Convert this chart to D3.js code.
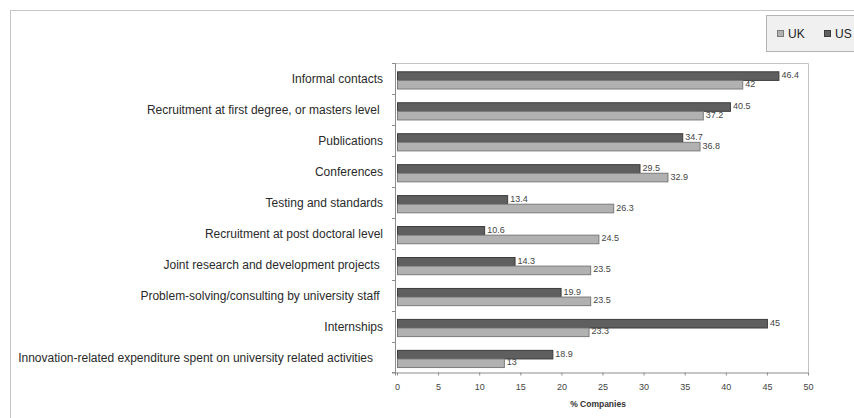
<!DOCTYPE html>
<html>
<head>
<meta charset="utf-8">
<script src="https://cdn.jsdelivr.net/npm/d3@7/dist/d3.min.js"></script>
<style>
  html, body { margin: 0; padding: 0; background: #fff; }
  svg { display: block; font-family: "Liberation Sans", Arial, sans-serif; }
</style>
</head>
<body>
<svg id="chart" width="854" height="418"></svg>
<script>
const categories = [
  "Informal contacts",
  "Recruitment at first degree, or masters level ",
  "Publications",
  "Conferences",
  "Testing and standards",
  "Recruitment at post doctoral level",
  "Joint research and development projects ",
  "Problem-solving/consulting by university staff ",
  "Internships",
  "Innovation-related expenditure spent on university related activities   "
];
const usValues = [46.4, 40.5, 34.7, 29.5, 13.4, 10.6, 14.3, 19.9, 45, 18.9];
const ukValues = [42, 37.2, 36.8, 32.9, 26.3, 24.5, 23.5, 23.5, 23.3, 13];
const xTicks = [0, 5, 10, 15, 20, 25, 30, 35, 40, 45, 50];
const seriesNames = ["UK", "US"];

(function () {
const svg = d3.select("#chart");
const colors = { US: "#5f5f5f", UK: "#b1b1b1" };
const strokes = { US: "#3c3c3c", UK: "#7a7a7a" };

// outer chart border
svg.append("rect").attr("x", 10.5).attr("y", 10.5).attr("width", 860).attr("height", 420)
  .attr("fill", "none").attr("stroke", "#c6c6c6");

const pL = 397, pR = 808, pT = 63, pB = 372.5;
const x = d3.scaleLinear().domain([0, 50]).range([pL, pR]);
const y = d3.scaleBand().domain(categories).range([pT, pB]).padding(0);
const bw = y.bandwidth();

// plot area frame (top & right)
svg.append("path")
  .attr("d", `M${pL - 2},${pT + 0.5} H${pR + 0.5} V${pB}`)
  .attr("fill", "none").attr("stroke", "#c4c4c4");

// bars
const rows = categories.map((c, i) => ({ c, us: usValues[i], uk: ukValues[i] }));
const g = svg.append("g");
const barH = 8.6;
rows.forEach(r => {
  const y0 = y(r.c);
  const yUS = y0 + 8.8, yUK = y0 + 8.8 + barH;
  g.append("rect").attr("x", x(0) + 0.5).attr("y", yUS)
    .attr("width", x(r.us) - x(0)).attr("height", barH)
    .attr("fill", colors.US).attr("stroke", strokes.US).attr("stroke-width", 1);
  g.append("rect").attr("x", x(0) + 0.5).attr("y", yUK)
    .attr("width", x(r.uk) - x(0)).attr("height", barH)
    .attr("fill", colors.UK).attr("stroke", strokes.UK).attr("stroke-width", 1);
  g.append("text").attr("x", x(r.us) + 3).attr("y", yUS + barH / 2 - 1)
    .attr("dominant-baseline", "central").attr("font-size", 9).attr("fill", "#444")
    .text(r.us);
  g.append("text").attr("x", x(r.uk) + 3).attr("y", yUK + barH / 2 - 1)
    .attr("dominant-baseline", "central").attr("font-size", 9).attr("fill", "#444")
    .text(r.uk);
});

// y axis
const yAxisG = svg.append("g");
yAxisG.append("line").attr("x1", pL - 1.5).attr("x2", pL - 1.5).attr("y1", pT).attr("y2", pB + 3)
  .attr("stroke", "#8c8c8c");
categories.forEach((c, i) => {
  const yy = Math.round(y(c)) + 0.5;
  yAxisG.append("line").attr("x1", pL - 5).attr("x2", pL - 1.5).attr("y1", yy).attr("y2", yy)
    .attr("stroke", "#8c8c8c");
  yAxisG.append("text").attr("x", 383).attr("y", y(c) + bw / 2 + 1)
    .attr("text-anchor", "end").attr("dominant-baseline", "central")
    .attr("font-size", 12).attr("fill", "#2a2a2a")
    .style("white-space", "pre")
    .text(c);
});
yAxisG.append("line").attr("x1", pL - 5).attr("x2", pL - 1.5).attr("y1", pB).attr("y2", pB)
  .attr("stroke", "#8c8c8c");

// x axis
const xAxis = d3.axisBottom(x).tickValues(xTicks).tickSize(3).tickPadding(8).tickFormat(d3.format("d"));
const xg = svg.append("g").attr("transform", `translate(0,${pB})`).call(xAxis);
xg.select(".domain").attr("stroke", "#8c8c8c").attr("d", `M${pL - 5},0.5H${pR + 0.5}`);
xg.selectAll(".tick line").attr("stroke", "#8c8c8c");
xg.selectAll(".tick text").attr("font-size", 9).attr("fill", "#444")
  .attr("font-family", "Liberation Sans, Arial, sans-serif");

svg.append("text").attr("x", 598).attr("y", 404).attr("text-anchor", "middle")
  .attr("dominant-baseline", "central")
  .attr("font-size", 8.5).attr("font-weight", "bold").attr("fill", "#333")
  .text("% Companies");

// legend
const lg = svg.append("g");
lg.append("rect").attr("x", 766.5).attr("y", 15.5).attr("width", 100).attr("height", 36)
  .attr("fill", "#f0f0f0").attr("stroke", "#b4b4b4");
const legendX = { UK: 777, US: 824 };
seriesNames.forEach(s => {
  lg.append("rect").attr("x", legendX[s] + 0.5).attr("y", 30.5).attr("width", 6).attr("height", 6)
    .attr("fill", colors[s]).attr("stroke", strokes[s]);
  lg.append("text").attr("x", legendX[s] + 11).attr("y", 33.5)
    .attr("dominant-baseline", "central").attr("font-size", 12).attr("fill", "#222")
    .text(s);
});
})();
</script>
</body>
</html>
